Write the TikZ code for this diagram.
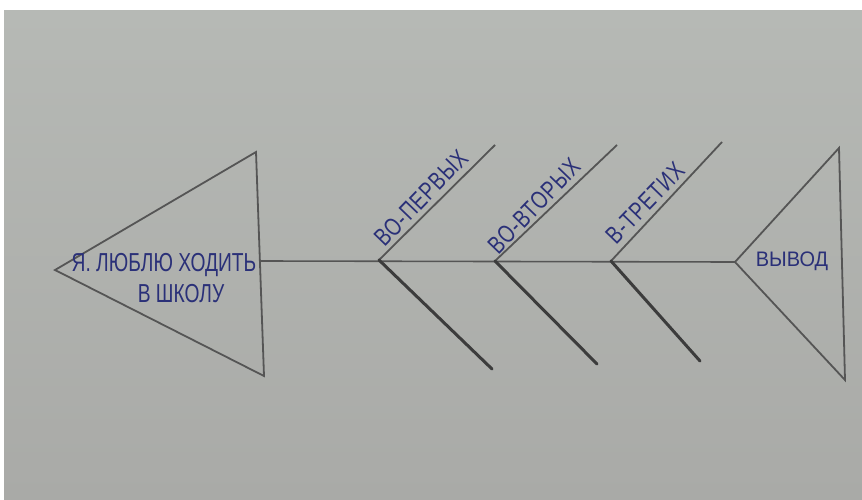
\documentclass[tikz,border=0pt]{standalone}
\usepackage{fontspec}
\usepackage{graphicx}
\setmainfont{Liberation Sans}
\newfontfamily\handn[FakeStretch=0.74]{Liberation Sans}
\newfontfamily\handb[FakeStretch=0.76, LetterSpace=4]{Liberation Sans}
\newfontfamily\handw[FakeStretch=0.95]{Liberation Sans}
\definecolor{paper}{HTML}{B6B9B5}
\definecolor{paperdark}{HTML}{A9AAA7}
\definecolor{ink}{HTML}{2A3078}
\definecolor{pencil}{HTML}{555555}
\definecolor{pencildark}{HTML}{3C3C3C}
\begin{document}
\begin{tikzpicture}[x=1pt,y=-1pt,
  tri/.style={draw=pencil, line width=1.8pt, line join=miter},
  spineline/.style={draw=pencil, line width=1.6pt},
  upbone/.style={draw=pencil, line width=1.8pt},
  lowbone/.style={draw=pencildark, line width=3pt, line cap=round},
  lbl/.style={text=ink, inner sep=0pt, font=\handn\fontsize{26}{28}\selectfont},
  bonelbl/.style={lbl, rotate=46, font=\handb\fontsize{25}{27}\selectfont},
]
\fill[white] (0,0) rectangle (862,500);
\shade[top color=paper, bottom color=paperdark] (4,11) rectangle (862,500);
\useasboundingbox (0,0) rectangle (862,500);

% left head triangle
\coordinate (Ltip) at (55,270);
\coordinate (Ltop) at (256,152);
\coordinate (Lbot) at (264,376);
\draw[tri] (Ltip) -- (Ltop) -- (Lbot) -- cycle;

% right tail triangle
\coordinate (Rtip) at (735,262);
\coordinate (Rtop) at (839,148);
\coordinate (Rbot) at (845,380);
\draw[tri] (Rtip) -- (Rtop) -- (Rbot) -- cycle;

% spine
\coordinate (sL) at (260,261);
\draw[spineline] (sL) -- (Rtip);

% bones
\coordinate (b1) at (379,260);
\coordinate (b2) at (495,261);
\coordinate (b3) at (611,261);
\coordinate (u1) at (495,145);
\coordinate (u2) at (617,145);
\coordinate (u3) at (722,142);
\coordinate (d1) at (492,369);
\coordinate (d2) at (597,364);
\coordinate (d3) at (700,361);
\draw[upbone] (b1) -- (u1);
\draw[upbone] (b2) -- (u2);
\draw[upbone] (b3) -- (u3);
\draw[lowbone] (b1) -- (d1);
\draw[lowbone] (b2) -- (d2);
\draw[lowbone] (b3) -- (d3);

% texts
\node[lbl] (head1) at (164,265) {Я. ЛЮБЛЮ ХОДИТЬ};
\node[lbl] (head2) at (181,294) {В ШКОЛУ};
\node[lbl, font=\handw\fontsize{21}{24}\selectfont] (concl) at (792,261) {ВЫВОД};
\node[bonelbl] (c1) at (421,198) {ВО-ПЕРВЫХ};
\node[bonelbl] (c2) at (534,206) {ВО-ВТОРЫХ};
\node[bonelbl] (c3) at (645,203) {В-ТРЕТИХ};
\end{tikzpicture}
\end{document}
